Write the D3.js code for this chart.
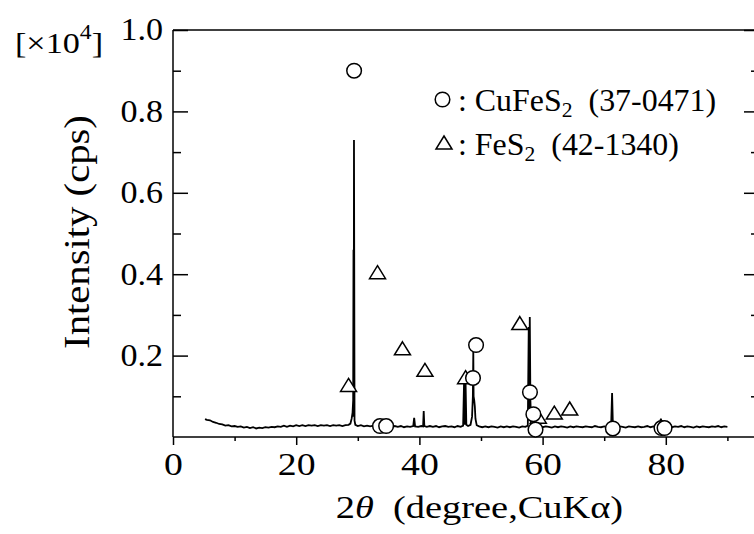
<!DOCTYPE html>
<html><head><meta charset="utf-8">
<script src="https://cdn.jsdelivr.net/npm/d3@7"></script>
<style>
html,body{margin:0;padding:0;background:#fff;}
svg{display:block;font-family:"Liberation Serif","Times New Roman",serif;}
svg text{font-family:"Liberation Serif","Times New Roman",serif;}
</style></head>
<body>
<svg id="c" width="754" height="534"></svg>
<script>
// XRD pattern: [2theta (deg), intensity (x10^4 cps)]
const patternPoints = [
[5.2,.044],[5.5,.042],[6.0,.041],[6.5,.037],[7.0,.035],[7.5,.032],[8.0,.031],[8.5,.028],[9.0,.029],[9.5,.026],
[10,.027],[10.5,.025],[11,.026],[11.5,.023],[12,.025],[12.5,.022],[13,.024],[13.5,.021],[14,.023],[14.5,.022],
[15,.024],[15.5,.023],[16,.025],[16.5,.024],[17,.026],[17.5,.025],[18,.028],[18.5,.025],[19,.028],[19.5,.026],
[20,.029],[20.5,.027],[21,.029],[21.5,.027],[22,.029],[22.5,.028],[23,.029],[23.5,.027],[24,.029],[24.5,.028],
[25,.029],[25.5,.027],[26,.029],[26.5,.028],[27,.029],[27.5,.027],[28,.029],[28.5,.030],[28.8,.033],[29.0,.045],
[29.15,.06],[29.25,.09],[29.3,.46],[29.34,.05],[29.38,.73],[29.42,.44],[29.47,.04],[29.6,.03],[30,.027],[30.5,.029],
[31,.026],[31.5,.028],[32,.026],[32.5,.028],[33,.025],[33.5,.027],[34,.025],[34.5,.027],[35,.026],[35.5,.024],
[36,.027],[36.5,.025],[37,.027],[37.5,.024],[38,.026],[38.5,.025],[39.0,.027],[39.15,.047],[39.3,.026],[39.8,.025],
[40.3,.027],[40.6,.026],[40.7,.064],[40.8,.027],[41.2,.025],[41.7,.027],[42.2,.025],[42.7,.027],[43.2,.024],[43.7,.026],
[44.2,.027],[44.7,.025],[45.2,.026],[45.7,.024],[46.2,.027],[46.7,.025],[47.1,.028],[47.25,.135],[47.35,.03],[47.5,.13],
[47.62,.03],[47.9,.027],[48.3,.03],[48.55,.05],[48.68,.10],[48.75,.21],[48.8,.10],[48.9,.09],[49.0,.075],[49.1,.045],
[49.3,.029],[49.7,.026],[50.2,.024],[50.7,.026],[51.2,.024],[51.7,.026],[52.2,.025],[52.7,.023],[53.2,.026],[53.7,.024],
[54.2,.026],[54.7,.024],[55.2,.026],[55.7,.025],[56.2,.023],[56.7,.026],[57.2,.025],[57.6,.028],[57.75,.27],[57.83,.07],
[57.92,.295],[58.02,.09],[58.15,.03],[58.5,.027],[59,.024],[59.5,.026],[60,.024],[60.5,.026],[61,.025],[61.5,.023],
[62,.026],[62.5,.024],[63,.026],[63.5,.025],[64,.023],[64.5,.026],[65,.024],[65.5,.026],[66,.025],[66.5,.024],
[67,.026],[67.5,.025],[68,.024],[68.5,.027],[69,.025],[69.5,.024],[70,.026],[70.5,.025],[71.0,.026],[71.15,.04],
[71.28,.108],[71.4,.035],[71.6,.026],[72,.024],[72.5,.026],[73,.025],[73.5,.023],[74,.026],[74.5,.025],[75,.024],
[75.5,.026],[76,.024],[76.5,.025],[77,.027],[77.5,.024],[78,.026],[78.5,.025],[79.0,.03],[79.2,.045],[79.4,.032],
[79.7,.027],[80,.025],[80.5,.027],[81,.024],[81.5,.026],[82,.025],[82.5,.027],[83,.024],[83.5,.026],[84,.025],
[84.5,.023],[85,.026],[85.5,.024],[86,.026],[86.5,.025],[87,.024],[87.5,.026],[88,.025],[88.5,.027],[89,.024],
[89.5,.026],[90,.025]
];
// CuFeS2 (37-0471) markers
const cufes2X = [29.4, 33.6, 34.6, 48.7, 49.2, 57.95, 58.5, 58.85, 71.4, 79.3, 79.8];
const cufes2Y = [0.90, 0.027, 0.027, 0.145, 0.226, 0.11, 0.056, 0.018, 0.021, 0.022, 0.022];
// FeS2 (42-1340) markers
const fes2X = [28.5, 33.2, 37.25, 40.9, 47.5, 56.3, 59.3, 61.9, 64.4];
const fes2Y = [0.128, 0.405, 0.218, 0.165, 0.147, 0.28, 0.05, 0.06, 0.07];
const xMajor = [0, 20, 40, 60, 80];
const xMinor = [10, 30, 50, 70, 90];
const yMajor = [0.2, 0.4, 0.6, 0.8, 1.0];
const yMinor = [0.1, 0.3, 0.5, 0.7, 0.9];

const FONT = "Liberation Serif";
const svg = d3.select("#c");
const x = d3.scaleLinear().domain([0, 90]).range([173, 727.4]);
const y = d3.scaleLinear().domain([0, 1]).range([437, 30]);
const xRight = 759;

function stretch(sel, s, ax, ay){
  sel.attr("transform", `translate(${ax},${ay}) scale(${s},1) translate(${-ax},${-ay})`);
}

// frame lines
svg.append("line").attr("x1",173).attr("x2",xRight).attr("y1",y(1)).attr("y2",y(1)).attr("stroke","#000").attr("stroke-width",1.5);
svg.append("line").attr("x1",xRight).attr("x2",xRight).attr("y1",y(1)).attr("y2",y(0)).attr("stroke","#000").attr("stroke-width",1.5);

// bottom axis
const gx = svg.append("g").attr("transform",`translate(0,${y(0)})`);
gx.call(d3.axisBottom(x).tickValues(xMajor).tickSize(8).tickPadding(7).tickFormat(d3.format("d")));
gx.append("line").attr("x1",173).attr("x2",xRight).attr("stroke","#000").attr("stroke-width",1.5);
const gxm = svg.append("g").attr("transform",`translate(0,${y(0)})`);
gxm.call(d3.axisBottom(x).tickValues(xMinor).tickSize(4).tickFormat(""));
[gx,gxm].forEach(g=>{g.select(".domain").remove();g.selectAll("line").attr("stroke","#000").attr("stroke-width",1.5);});
gx.selectAll("text").attr("font-size",32).attr("font-family",FONT).attr("fill","#000").attr("transform","scale(1.18,1)");

// left axis
const gy = svg.append("g").attr("transform",`translate(173,0)`);
gy.call(d3.axisLeft(y).tickValues(yMajor).tickSize(-15).tickPadding(10).tickFormat(d3.format(".1f")));
const gym = svg.append("g").attr("transform",`translate(173,0)`);
gym.call(d3.axisLeft(y).tickValues(yMinor).tickSize(-8).tickFormat(""));
[gy,gym].forEach(g=>{g.selectAll("line").attr("stroke","#000").attr("stroke-width",1.5);});
gy.select(".domain").attr("d",`M0,${y(1)}V${y(0)}`).attr("stroke","#000").attr("stroke-width",1.5);
gym.select(".domain").remove();
gy.selectAll("text").attr("font-size",31).attr("font-family",FONT).attr("fill","#000")
  .attr("transform","translate(-10,0) scale(1.1,1) translate(10,0)");

// right axis ticks
const gr = svg.append("g").attr("transform",`translate(${xRight},0)`);
gr.call(d3.axisRight(y).tickValues(yMajor).tickSize(-15).tickFormat(""));
const grm = svg.append("g").attr("transform",`translate(${xRight},0)`);
grm.call(d3.axisRight(y).tickValues(yMinor).tickSize(-8).tickFormat(""));
[gr,grm].forEach(g=>{g.select(".domain").remove();g.selectAll("line").attr("stroke","#000").attr("stroke-width",1.5);});

// pattern line
svg.append("path").datum(patternPoints)
  .attr("d", d3.line().x(d=>x(d[0])).y(d=>y(d[1])))
  .attr("fill","none").attr("stroke","#000").attr("stroke-width",1.8).attr("stroke-linejoin","miter");

// markers
const tri = "M0,-6.5L8,6.5L-8,6.5Z";
svg.append("g").selectAll("path").data(fes2X.map((v,i)=>[v,fes2Y[i]])).join("path")
  .attr("d",tri).attr("transform",d=>`translate(${x(d[0])},${y(d[1])})`)
  .attr("fill","#fff").attr("stroke","#000").attr("stroke-width",1.5);
svg.append("g").selectAll("circle").data(cufes2X.map((v,i)=>[v,cufes2Y[i]])).join("circle")
  .attr("cx",d=>x(d[0])).attr("cy",d=>y(d[1])).attr("r",7.3)
  .attr("fill","#fff").attr("stroke","#000").attr("stroke-width",1.5);

// legend
svg.append("circle").attr("cx",442.5).attr("cy",99.5).attr("r",7.3).attr("fill","#fff").attr("stroke","#000").attr("stroke-width",1.5);
svg.append("path").attr("d",tri).attr("transform","translate(444,142.5)").attr("fill","#fff").attr("stroke","#000").attr("stroke-width",1.5);
const l1 = svg.append("text").attr("x",458).attr("y",111).attr("font-size",31).attr("font-family",FONT).attr("xml:space","preserve");
l1.append("tspan").text(": CuFeS");
l1.append("tspan").attr("dy",6).attr("font-size",21).text("2");
l1.append("tspan").attr("dy",-6).text("  (37-0471)");
stretch(l1, 1.03, 458, 111);
const l2 = svg.append("text").attr("x",458).attr("y",155).attr("font-size",31).attr("font-family",FONT).attr("xml:space","preserve");
l2.append("tspan").text(": FeS");
l2.append("tspan").attr("dy",6).attr("font-size",21).text("2");
l2.append("tspan").attr("dy",-6).text("  (42-1340)");
stretch(l2, 1.03, 458, 155);

// unit label
const u = svg.append("text").attr("x",15).attr("y",53).attr("font-size",29).attr("font-family",FONT);
u.append("tspan").text("[×10");
u.append("tspan").attr("dy",-14).attr("font-size",20).text("4");
u.append("tspan").attr("dy",14).text("]");
stretch(u, 1.18, 15, 53);

// axis titles
const xt = svg.append("text").attr("x",479.5).attr("y",518).attr("text-anchor","middle").attr("font-size",32).attr("font-family",FONT).attr("xml:space","preserve");
xt.append("tspan").text("2");
xt.append("tspan").attr("font-style","italic").text("θ");
xt.append("tspan").text("  (degree,CuKα)");
stretch(xt, 1.2, 479.5, 518);
svg.append("text").attr("transform","translate(89,232) rotate(-90) scale(1.13,1)").attr("text-anchor","middle")
  .attr("font-size",36).attr("font-family",FONT).text("Intensity (cps)");
</script>
</body></html>
